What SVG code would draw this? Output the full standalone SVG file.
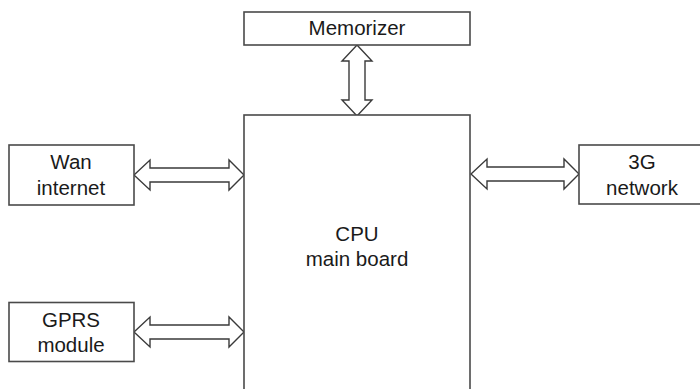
<svg xmlns="http://www.w3.org/2000/svg" width="700" height="389" viewBox="0 0 700 389">
  <style>
    .box { fill: #ffffff; stroke: #4a4a4a; stroke-width: 1.6; }
    .arrow { fill: #ffffff; stroke: #3a3a3a; stroke-width: 1.4; stroke-linejoin: miter; }
    .label { font-family: "Liberation Sans", Arial, sans-serif; font-size: 20.5px; fill: #1a1a1a; text-anchor: middle; }
  </style>
  <rect width="700" height="389" fill="#ffffff"/>

  <!-- bidirectional block arrows -->
  <g id="connectors">
    <!-- Memorizer <-> CPU -->
    <polygon class="arrow" points="357,45 372,61 365,61 365,100 372,100 357,116 342,100 349,100 349,61 342,61"/>
    <!-- Wan internet <-> CPU -->
    <polygon class="arrow" points="134,175 150,160 150,168 229,168 229,160 244,175 229,190 229,182 150,182 150,190"/>
    <!-- CPU <-> 3G network -->
    <polygon class="arrow" points="471,174 487,159 487,167 564,167 564,159 579,174 564,189 564,181 487,181 487,189"/>
    <!-- GPRS module <-> CPU -->
    <polygon class="arrow" points="134,332 150,317 150,325 229,325 229,317 244,332 229,347 229,339 150,339 150,347"/>
  </g>

  <g id="memorizer">
    <rect class="box" x="244" y="12" width="226" height="33"/>
    <text class="label" x="357" y="35">Memorizer</text>
  </g>

  <g id="cpu">
    <rect class="box" x="244" y="115" width="226" height="290"/>
    <text class="label" x="357" y="241">CPU</text>
    <text class="label" x="357" y="266">main board</text>
  </g>

  <g id="wan">
    <rect class="box" x="9" y="145" width="125" height="60"/>
    <text class="label" x="71" y="169">Wan</text>
    <text class="label" x="71" y="195">internet</text>
  </g>

  <g id="gprs">
    <rect class="box" x="9" y="302.5" width="125" height="59"/>
    <text class="label" x="71" y="327">GPRS</text>
    <text class="label" x="71" y="352">module</text>
  </g>

  <g id="network3g">
    <rect class="box" x="579" y="145" width="127" height="59"/>
    <text class="label" x="642" y="169">3G</text>
    <text class="label" x="642" y="195">network</text>
  </g>
</svg>
